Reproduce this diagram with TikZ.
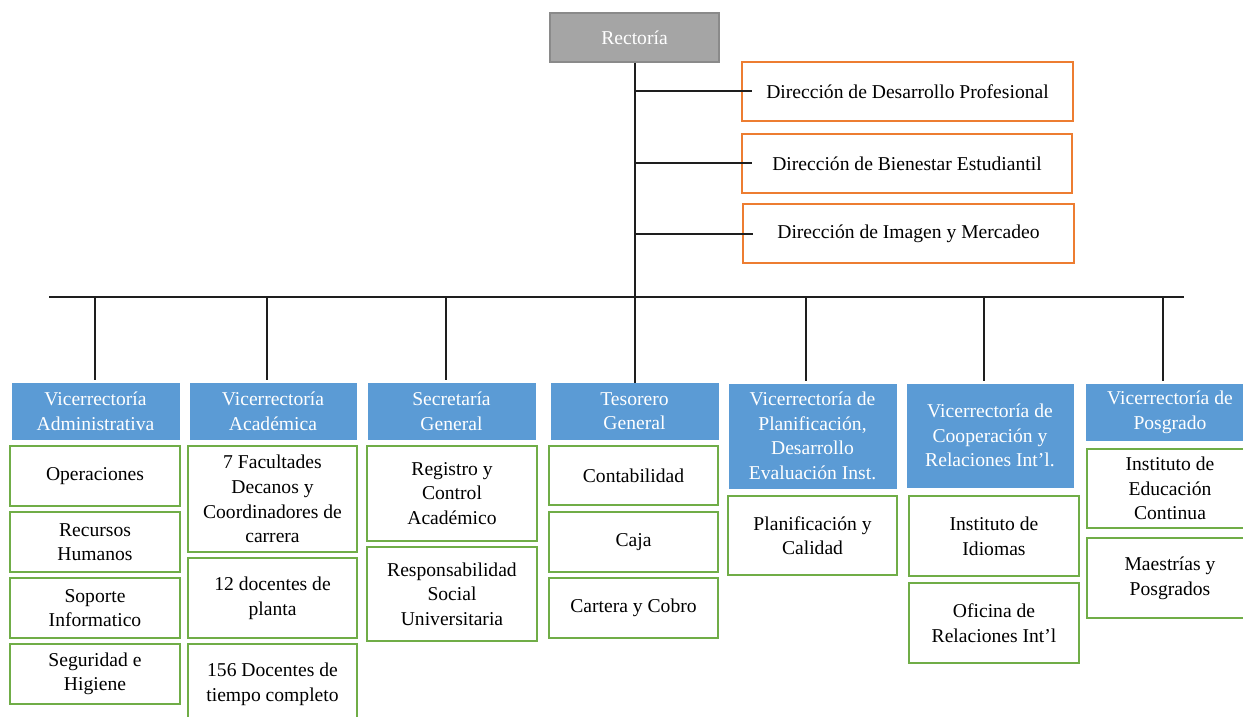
\documentclass[tikz,border=0pt]{standalone}
\usepackage{fontspec}
\setmainfont{Liberation Serif}
\usetikzlibrary{calc}
\definecolor{vblue}{HTML}{5B9BD5}
\definecolor{vgreen}{HTML}{70AD47}
\definecolor{vorange}{HTML}{ED7D31}
\definecolor{rgray}{HTML}{A5A5A5}
\definecolor{rline}{HTML}{8A8A8A}
\definecolor{linkc}{HTML}{1E1E1E}

\begin{document}
\begin{tikzpicture}[x=0.5pt,y=-0.5pt,
    every node/.style={font=\fontsize{9.8}{12.3}\selectfont, align=center, inner sep=0pt},
    rectbox/.style 2 args={draw=rline, fill=rgray, text=white, line width=0.6pt, minimum width=#1, minimum height=#2},
    dirbox/.style 2 args={draw=vorange, line width=0.6pt, minimum width=#1, minimum height=#2},
    vicebox/.style 2 args={draw=vblue, fill=vblue, text=white, line width=0.4pt, minimum width=#1, minimum height=#2},
    unitbox/.style 2 args={draw=vgreen, line width=1pt, minimum width=#1, minimum height=#2},
    link/.style={draw=linkc, line width=1pt}]
  \useasboundingbox (0,0) rectangle (1243,717);

  % rectoria y direcciones
  \node[rectbox={84.5pt}{24.5pt}] (rector) at (634.5,37.5) {Rectoría};
  \node[dirbox={165.5pt}{29.5pt}] (dir1) at (907.5,91.5) {Dirección de Desarrollo Profesional};
  \node[dirbox={165pt}{29.5pt}] (dir2) at (907,163.5) {Dirección de Bienestar Estudiantil};
  \node[dirbox={165.5pt}{29.5pt}] (dir3) at (908.5,233.5) {Dirección de Imagen y Mercadeo};

  % vicerrectorias
  \node[vicebox={83.5pt}{28pt}] (vadm) at (95.5,411) {Vicerrectoría\\Administrativa};
  \node[vicebox={83pt}{28pt}] (vaca) at (273,411) {Vicerrectoría\\Académica};
  \node[vicebox={83.5pt}{28pt}] (sec) at (451.5,411) {Secretaría\\General};
  \node[vicebox={83.5pt}{28pt}] (tes) at (634.5,411) {Tesorero\\General};
  \node[vicebox={83.5pt}{52pt}] (vpla) at (812.5,436) {Vicerrectoría de\\Planificación,\\Desarrollo\\Evaluación Inst.};
  \node[vicebox={83pt}{51.5pt}] (vcoo) at (990,435.5) {Vicerrectoría de\\Cooperación y\\Relaciones Int’l.};
  \node[vicebox={83.5pt}{28pt}] (vpos) at (1170,412) {Vicerrectoría de\\Posgrado};

  % unidades
  \node[unitbox={85pt}{30pt}] (ope) at (95,476) {Operaciones};
  \node[unitbox={85pt}{30pt}] (rrhh) at (95,542) {Recursos\\Humanos};
  \node[unitbox={85pt}{30pt}] (sop) at (95,608) {Soporte\\Informatico};
  \node[unitbox={85pt}{30pt}] (seg) at (95,674) {Seguridad e\\Higiene};

  \node[unitbox={84.5pt}{53pt}] (fac) at (272.5,499) {7 Facultades\\Decanos y\\Coordinadores de\\carrera};
  \node[unitbox={84.5pt}{40pt}] (doc) at (272.5,598) {12 docentes de\\planta};
  \node[unitbox={84.5pt}{40pt}] (tc) at (272.5,684) {156 Docentes de\\tiempo completo};

  \node[unitbox={85pt}{47.5pt}] (reg) at (452,493.5) {Registro y\\Control\\Académico};
  \node[unitbox={85pt}{47pt}] (rsu) at (452,594) {Responsabilidad\\Social\\Universitaria};

  \node[unitbox={84.5pt}{29.5pt}] (con) at (633.5,475.5) {Contabilidad};
  \node[unitbox={84.5pt}{30pt}] (caja) at (633.5,542) {Caja};
  \node[unitbox={84.5pt}{30pt}] (car) at (633.5,608) {Cartera y Cobro};

  \node[unitbox={84.5pt}{39.5pt}] (pcal) at (812.5,535.5) {Planificación y\\Calidad};

  \node[unitbox={85pt}{40pt}] (idi) at (994,536) {Instituto de\\Idiomas};
  \node[unitbox={85pt}{40pt}] (ori) at (994,623) {Oficina de\\Relaciones Int’l};

  \node[unitbox={83pt}{39.5pt}] (iec) at (1170,488.5) {Instituto de\\Educación\\Continua};
  \node[unitbox={83pt}{40pt}] (mae) at (1170,578) {Maestrías y\\Posgrados};

  % lineas
  \coordinate (busL) at (49,297);
  \coordinate (busR) at (1184,297);
  \draw[link] (busL) -- (busR);
  \draw[link] (rector.south) -- (tes.north);
  \foreach \d in {dir1,dir2,dir3}
    \draw[link] (rector.south |- \d.west) -- ([xshift=5.5pt]\d.west);
  \foreach \v/\o in {vadm/-0.25pt,vaca/-3pt,sec/-2.75pt,vpla/-3.25pt,vcoo/-3pt,vpos/-3.5pt}
    \draw[link, shorten <=1.5pt] ([xshift=\o]\v.north) -- ([xshift=\o]\v.north |- busL);
\end{tikzpicture}
\end{document}
